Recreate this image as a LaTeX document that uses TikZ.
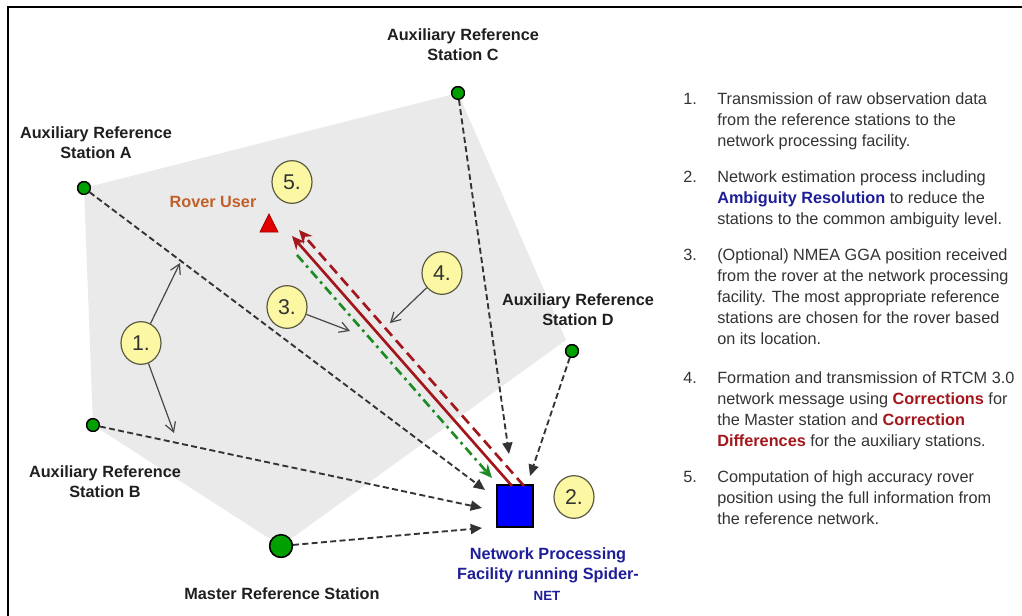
\documentclass[tikz,border=0pt]{standalone}
\usepackage{fontspec}
\setmainfont{Liberation Sans}
\usetikzlibrary{arrows.meta,shapes.geometric}
\definecolor{polygray}{HTML}{EAEAEA}
\definecolor{stgreen}{HTML}{00A000}
\definecolor{darkred}{HTML}{A3161B}
\definecolor{navyc}{HTML}{1E1E98}
\definecolor{roverc}{HTML}{C0602A}
\definecolor{txtgray}{HTML}{333333}
\definecolor{circyel}{HTML}{FBF7A2}
\definecolor{circedge}{HTML}{5A5A40}
\definecolor{dashgreen}{HTML}{1E8C24}
\newcommand\hlblue[1]{{\bfseries\color{navyc}#1}}
\newcommand\hlred[1]{{\bfseries\color{darkred}#1}}
\begin{document}
\begin{tikzpicture}[x=0.75pt,y=-0.75pt,
  station/.style={circle,draw=black,fill=stgreen,line width=1pt,inner sep=0pt,minimum size=9.5pt},
  masterst/.style={circle,draw=black,fill=stgreen,line width=1.1pt,inner sep=0pt,minimum size=17pt},
  netbox/.style={rectangle,draw=black,fill=blue,line width=1.5pt,inner sep=0pt,minimum width=27pt,minimum height=31pt},
  lbl/.style={font=\fontsize{12.2}{15}\selectfont\bfseries,text=black!88,inner sep=0pt,align=center},
  num/.style={ellipse,draw=circedge,fill=circyel,line width=0.9pt,inner sep=0pt,minimum width=30pt,minimum height=32pt,font=\fontsize{16}{18}\selectfont,text=txtgray},
  rt/.style={font=\fontsize{12.2}{14}\selectfont,text=txtgray,inner sep=0pt,anchor=base west},
  link/.style={draw=black!80,line width=1.4pt,dash pattern=on 4.5pt off 2.5pt,-{Triangle[length=8.5pt,width=7.5pt]}},
  pointer/.style={draw=black!72,line width=0.9pt,-{Straight Barb[length=7pt,width=8pt]}},
  redarrow/.style={draw=darkred,line width=2pt,-{Stealth[length=10pt,width=9pt]}},
  greenarrow/.style={draw=dashgreen,line width=2pt,dash pattern=on 7pt off 3.5pt on 2pt off 3.5pt,-{Stealth[length=10pt,width=9pt]}}
]
\useasboundingbox (0,0) rectangle (1022,615);
\clip (0,0) rectangle (1022,615);
% frame
\draw[line width=1.2pt] (8,616) -- (8,7) -- (1023,7);

% stations
\node[station] (A) at (84,188) {};
\node[station] (B) at (93,425) {};
\node[station] (C) at (458,93) {};
\node[station] (D) at (572,351) {};
\node[masterst] (M) at (281,546) {};
\coordinate (Dv) at (566,340);

% gray network polygon
\fill[polygray] (A.center) -- (C.center) -- (Dv) -- (M.center) -- (B.center) -- cycle;
\node[station] at (A) {};
\node[station] at (B) {};
\node[station] at (C) {};
\node[station] at (D) {};
\node[masterst] at (M) {};

% processing facility
\node[netbox] (N) at (515,506) {};

% arrow end points near the facility
\coordinate (tA) at (485,490);
\coordinate (tB) at (482,508);
\coordinate (tM) at (482,528);
\coordinate (tC) at (509,454);
\coordinate (tD) at (530,476);

\draw[link] (A) -- (tA);
\draw[link] (B) -- (tB);
\draw[link] (M) -- (tM);
\draw[link] (C) -- (tC);
\draw[link] (D) -- (tD);

% rover
\filldraw[fill=red!90!black,draw=red!60!black,line width=0.6pt] (260,232) -- (269,214) -- (278,232) -- cycle;

% red and green links between facility and rover
\coordinate (rs1) at (512,486);
\coordinate (re1) at (292,236);
\coordinate (rs2) at (524,486);
\coordinate (re2) at (299,230);
\coordinate (gs) at (297,255);
\coordinate (ge) at (492,478);
\draw[redarrow] (rs1) -- (re1);
\draw[redarrow,dash pattern=on 8pt off 4.5pt] (rs2) -- (re2);
\draw[greenarrow] (gs) -- (ge);

% numbered circles
\node[num] (n1) at (141,343) {1.};
\node[num] (n2) at (574,497) {2.};
\node[num] (n3) at (287,307) {3.};
\node[num] (n4) at (442,273) {4.};
\node[num] (n5) at (292,182) {5.};

\coordinate (p1a) at (180,263);
\coordinate (p1b) at (174,433);
\coordinate (p3) at (350,331);
\coordinate (p4) at (390,323);
\draw[pointer] (n1) -- (p1a);
\draw[pointer] (n1) -- (p1b);
\draw[pointer] (n3) -- (p3);
\draw[pointer] (n4) -- (p4);

% labels
\node[lbl] (LC) at (463,45) {Auxiliary Reference\\Station C};
\node[lbl] (LA) at (96,143) {Auxiliary Reference\\Station A};
\node[lbl] (LD) at (578,310) {Auxiliary Reference\\Station D};
\node[lbl] (LB) at (105,482) {Auxiliary Reference\\Station B};
\node[lbl] (LM) at (282,594) {Master Reference Station};
\node[lbl,text=roverc] (LR) at (213,202) {Rover User};
\node[lbl,text=navyc] (LN) at (548,565) {Network Processing\\Facility running Spider-};
\begin{scope}
\clip (500,585) rectangle (600,599);
\node[lbl,text=navyc,font=\fontsize{10}{12}\selectfont\bfseries] (LN3) at (547,596) {NET};
\end{scope}

% right-hand explanation
\node[rt] (k1) at (683,104) {1.};
\node[rt] (t1a) at (717,104) {Transmission of raw observation data};
\node[rt] (t1b) at (717,125) {from the reference stations to the};
\node[rt] (t1c) at (717,146) {network processing facility.};

\node[rt] (k2) at (683,182) {2.};
\node[rt] (t2a) at (717,182) {Network estimation process including};
\node[rt] (t2b) at (717,203) {\hlblue{Ambiguity Resolution} to reduce the};
\node[rt] (t2c) at (717,224) {stations to the common ambiguity level.};

\node[rt] (k3) at (683,260) {3.};
\node[rt] (t3a) at (717,260) {(Optional) NMEA GGA position received};
\node[rt] (t3b) at (717,281) {from the rover at the network processing};
\node[rt] (t3c) at (717,302) {facility. The most appropriate reference};
\node[rt] (t3d) at (717,323) {stations are chosen for the rover based};
\node[rt] (t3e) at (717,344) {on its location.};

\node[rt] (k4) at (683,383) {4.};
\node[rt] (t4a) at (717,383) {Formation and transmission of RTCM 3.0};
\node[rt] (t4b) at (717,404) {network message using \hlred{Corrections} for};
\node[rt] (t4c) at (717,425) {the Master station and \hlred{Correction}};
\node[rt] (t4d) at (717,446) {\hlred{Differences} for the auxiliary stations.};

\node[rt] (k5) at (683,482) {5.};
\node[rt] (t5a) at (717,482) {Computation of high accuracy rover};
\node[rt] (t5b) at (717,503) {position using the full information from};
\node[rt] (t5c) at (717,524) {the reference network.};
\end{tikzpicture}
\end{document}
